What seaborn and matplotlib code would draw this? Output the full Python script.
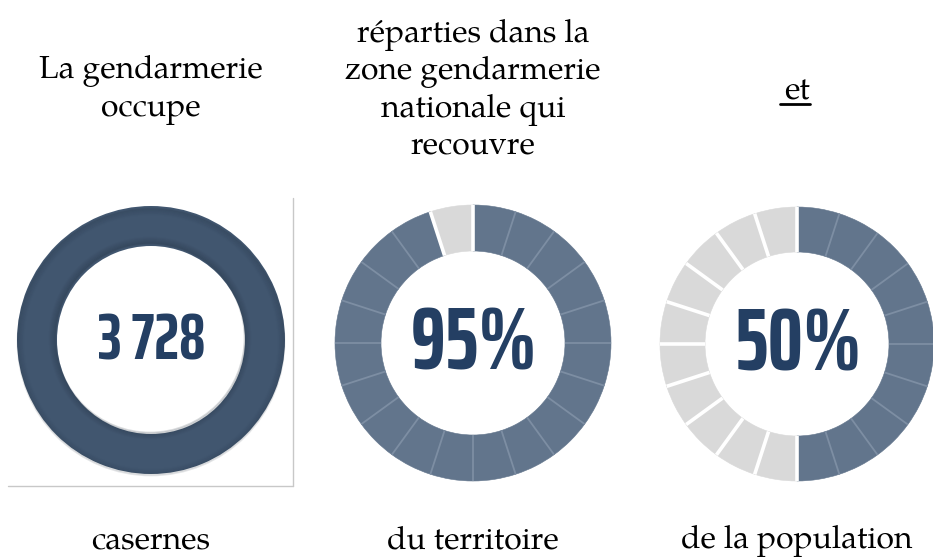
import numpy as np
import matplotlib.pyplot as plt
import seaborn as sns
from matplotlib.patches import Circle

sns.set_theme(style='white')
plt.rcParams['font.family'] = ['TeX Gyre Pagella', 'DejaVu Serif']

# data
casernes = 3728
center_labels = ['3 728', '95%', '50%']
pct_values = [95, 50]          # territoire, population
n_segments = 20
top_labels = ['La gendarmerie\noccupe',
              'réparties dans la\nzone gendarmerie\nnationale qui\nrecouvre',
              'et']
bottom_labels = ['casernes', 'du territoire', 'de la population']

W, H = 933, 559
DARK = '#62758c'
SEP = '#7d8ea3'
LIGHT = '#d9d9d9'
RING = '#41566f'
NUM = '#243f63'

# layout (pixel coords, y from top)
centers = [(151, 340), (473, 343), (797, 344)]
r_out = [134, 138, 137]
r_in = [94, 92, 92]


def py(y):
    return H - y


fig = plt.figure(figsize=(W / 100, H / 100), dpi=100)
ax = fig.add_axes([0, 0, 1, 1])

# first donut: solid ring with soft shadow
cx, cy = centers[0]
ax.pie([casernes], colors=[RING], radius=r_out[0], center=(cx, py(cy)),
       startangle=90, wedgeprops=dict(width=r_out[0] - r_in[0], linewidth=0))
for i in range(7):
    a = 0.16 * (1 - i / 7)
    ax.add_patch(Circle((cx - 1, py(cy) + 2), r_in[0] + i + 0.5, fill=False,
                        ec='#16222f', lw=1.2, alpha=a))
    ax.add_patch(Circle((cx, py(cy) - 2), r_out[0] - i - 0.5, fill=False,
                        ec='#16222f', lw=1.2, alpha=a * 0.7))

# segmented donuts
for k, pct in enumerate(pct_values):
    cx, cy = centers[k + 1]
    ro, ri = r_out[k + 1], r_in[k + 1]
    n_dark = int(round(pct / 100 * n_segments))
    seg_colors = [DARK] * n_dark + [LIGHT] * (n_segments - n_dark)
    wedges, _ = ax.pie([1] * n_segments, colors=seg_colors, radius=ro,
                       center=(cx, py(cy)), startangle=90, counterclock=False,
                       wedgeprops=dict(width=ro - ri, linewidth=0.4))
    for w, c in zip(wedges, seg_colors):
        w.set_edgecolor(c)
    for j in range(n_segments):
        th = np.deg2rad(90 - j * 360 / n_segments)
        left, right = seg_colors[j - 1], seg_colors[j]
        if left == DARK and right == DARK:
            col, lw = SEP, 1.3
        else:
            col, lw = 'white', 2.6
        ax.plot([cx + ri * np.cos(th), cx + ro * np.cos(th)],
                [py(cy) + ri * np.sin(th), py(cy) + ro * np.sin(th)],
                color=col, lw=lw, solid_capstyle='butt')

# numbers in the middle
num_font = ['Saira ExtraCondensed', 'Saira Condensed', 'DejaVu Sans']
num_sizes = [47, 64, 64]
for (cx, cy), lab, fs in zip(centers, center_labels, num_sizes):
    ax.text(cx + 1, py(cy + 2), lab, ha='center', va='center', fontsize=fs,
            fontweight='bold', family=num_font, color=NUM)

# captions
top_y = [90, 91, 92]
for (cx, _), lab, ty in zip(centers, top_labels, top_y):
    ax.text(cx, py(ty), lab, ha='center', va='center', fontsize=23,
            linespacing=1.22, color='black')
ax.plot([780, 810], [py(104), py(104)], color='black', lw=2)

for (cx, _), lab in zip(centers, bottom_labels):
    ax.text(cx, py(541), lab, ha='center', va='center', fontsize=23,
            color='black')

# thin frame around first picture
ax.plot([293, 293], [py(198), py(486)], color='#c8c8c8', lw=1)
ax.plot([8, 293], [py(486), py(486)], color='#c8c8c8', lw=1)

ax.set_xlim(0, W)
ax.set_ylim(0, H)
ax.set_aspect('equal')
ax.axis('off')

plt.savefig('out.png', dpi=100)
